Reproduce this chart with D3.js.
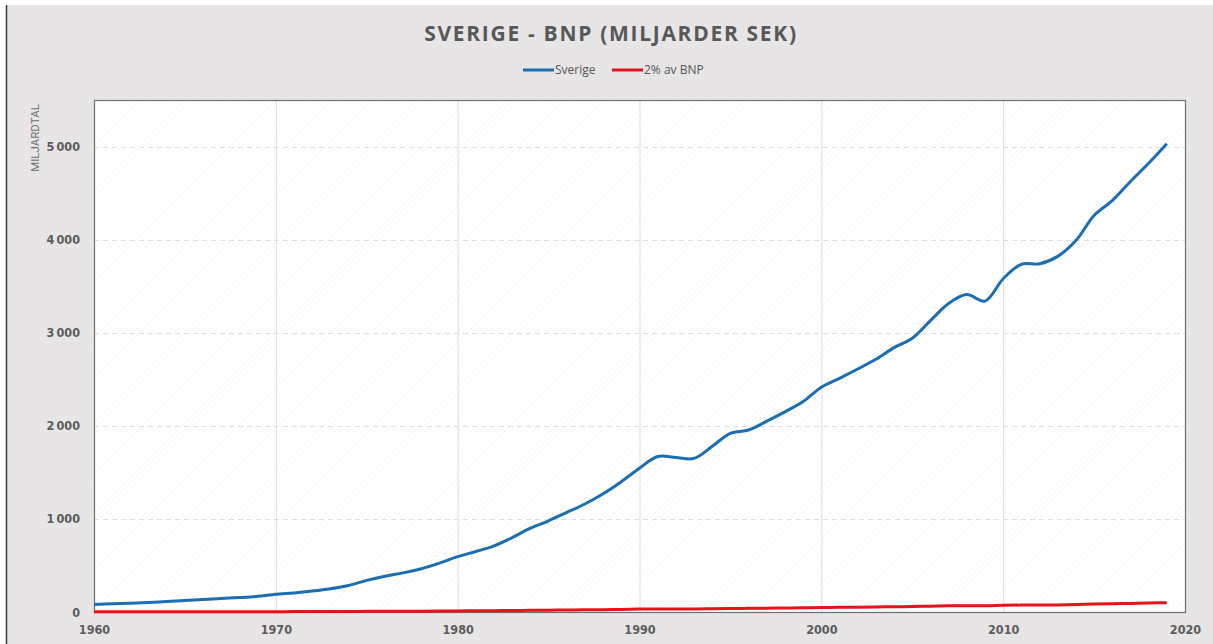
<!DOCTYPE html>
<html lang="sv">
<head>
<meta charset="UTF-8">
<title>Sverige - BNP</title>
<style>
  html, body {
    margin: 0;
    background: #ffffff;
    overflow: hidden;
  }
  .tick text {
    font-family: "DejaVu Sans Condensed", "DejaVu Sans", sans-serif;
    font-weight: bold;
    font-size: 12.5px;
    fill: #5c5c5c;
  }
</style>
</head>
<body>
<div id="chart"></div>
<script src="https://cdn.jsdelivr.net/npm/d3@7"></script>
<script>
// years 1960..2019
const years = d3.range(1960, 2020);

// BNP, miljarder SEK
const sverige = [
  80, 88, 95, 103, 113, 124, 134, 145, 155, 168,
  190, 205, 225, 250, 285, 340, 385, 420, 465, 525,
  595, 650, 710, 800, 900, 980, 1070, 1160, 1270, 1400,
  1545, 1670, 1660, 1650, 1780, 1920, 1955, 2050, 2150, 2260,
  2415, 2510, 2610, 2715, 2840, 2940, 3130, 3315, 3410, 3340,
  3580, 3735, 3740, 3820, 3990, 4260, 4420, 4625, 4820, 5030
];

// 2% av BNP
const tvaProcent = [
  1.6, 1.8, 1.9, 2.1, 2.3, 2.5, 2.7, 2.9, 3.1, 3.4,
  3.8, 4.1, 4.5, 5.0, 5.7, 6.8, 7.7, 8.4, 9.3, 10.5,
  11.9, 13.0, 14.2, 16.0, 18.0, 19.6, 21.4, 23.2, 25.4, 28.0,
  30.9, 33.4, 33.2, 33.0, 35.6, 38.4, 39.1, 41.0, 43.0, 45.2,
  48.3, 50.2, 52.2, 54.3, 56.8, 58.8, 62.6, 66.3, 68.2, 66.8,
  71.6, 74.7, 74.8, 76.4, 79.8, 85.2, 88.4, 92.5, 96.4, 100.6
];

const xTicks = [1960, 1970, 1980, 1990, 2000, 2010, 2020];
const yTicks = [0, 1000, 2000, 3000, 4000, 5000];

const seriesNames = ["Sverige", "2% av BNP"];
const seriesColors = ["#1b6db4", "#e8121b"];

const W = 1213, H = 644;
const margin = { top: 100, right: 28, bottom: 32, left: 94 };
const innerW = W - margin.left - margin.right;
const innerH = H - margin.top - margin.bottom;

const svg = d3.select("#chart").append("svg")
  .attr("width", W)
  .attr("height", H);

// page background and left frame line
svg.append("rect")
  .attr("x", 6).attr("y", 5)
  .attr("width", W - 6).attr("height", H - 5)
  .attr("fill", "#e7e5e6");
svg.append("line")
  .attr("x1", 6.5).attr("x2", 6.5)
  .attr("y1", 5).attr("y2", H)
  .attr("stroke", "#3a3a3a").attr("stroke-width", 1.5);

// hatch pattern for plot background
const defs = svg.append("defs");
const pat = defs.append("pattern")
  .attr("id", "hatch")
  .attr("width", 4).attr("height", 4)
  .attr("patternUnits", "userSpaceOnUse")
  .attr("patternTransform", "rotate(45)");
pat.append("rect").attr("width", 4).attr("height", 4).attr("fill", "#ffffff");
pat.append("line")
  .attr("x1", 0).attr("x2", 0).attr("y1", 0).attr("y2", 4)
  .attr("stroke", "#f3f3f3").attr("stroke-width", 1);

const x = d3.scaleLinear().domain([1960, 2020]).range([0, innerW]);
const y = d3.scaleLinear().domain([0, 5500]).range([innerH, 0]);

const g = svg.append("g")
  .attr("transform", `translate(${margin.left},${margin.top})`);

g.append("rect")
  .attr("width", innerW).attr("height", innerH)
  .attr("fill", "url(#hatch)");

// vertical grid (solid)
g.append("g")
  .selectAll("line")
  .data(xTicks.slice(1, -1))
  .join("line")
  .attr("x1", d => x(d) + 0.5).attr("x2", d => x(d) + 0.5)
  .attr("y1", 0).attr("y2", innerH)
  .attr("stroke", "#dcdcdc").attr("stroke-width", 1);

// horizontal grid (dashed)
g.append("g")
  .selectAll("line")
  .data(yTicks.slice(1))
  .join("line")
  .attr("x1", 0).attr("x2", innerW)
  .attr("y1", d => Math.round(y(d)) + 0.5).attr("y2", d => Math.round(y(d)) + 0.5)
  .attr("stroke", "#dedede").attr("stroke-width", 1)
  .attr("stroke-dasharray", "5,4");

// plot border
g.append("rect")
  .attr("x", 0.5).attr("y", 0.5)
  .attr("width", innerW).attr("height", innerH)
  .attr("fill", "none")
  .attr("stroke", "#6e6e6e").attr("stroke-width", 1.2);

// axes
const fmt = d => d3.format(",")(d).replace(/,/g, "\u2009");
const yAxis = g.append("g")
  .call(d3.axisLeft(y).tickValues(yTicks).tickSize(0).tickPadding(14).tickFormat(fmt));
yAxis.select(".domain").remove();

const xAxis = g.append("g")
  .attr("transform", `translate(0,${innerH})`)
  .call(d3.axisBottom(x).tickValues(xTicks).tickSize(0).tickPadding(13).tickFormat(d3.format("d")));
xAxis.select(".domain").remove();

// y axis title
svg.append("text")
  .attr("transform", "translate(39,138) rotate(-90)")
  .attr("text-anchor", "middle")
  .attr("font-family", "Roboto, 'DejaVu Sans', sans-serif")
  .attr("font-size", 11.5)
  .attr("fill", "#707070")
  .text("MILJARDTAL");

// lines
const line = d3.line()
  .x((d, i) => x(years[i]))
  .y(d => y(d))
  .curve(d3.curveCatmullRom.alpha(0.5));

[tvaProcent, sverige].forEach((vals, k) => {
  g.append("path")
    .datum(vals)
    .attr("fill", "none")
    .attr("stroke", k === 0 ? seriesColors[1] : seriesColors[0])
    .attr("stroke-width", 3)
    .attr("stroke-linejoin", "round")
    .attr("stroke-linecap", "butt")
    .attr("d", line);
});

// title
svg.append("text")
  .attr("x", 611).attr("y", 41)
  .attr("text-anchor", "middle")
  .attr("font-family", "'Open Sans', sans-serif")
  .attr("font-weight", "bold")
  .attr("font-size", 21)
  .attr("letter-spacing", 1.7)
  .attr("fill", "#585858")
  .text("SVERIGE - BNP (MILJARDER SEK)");

// legend
const legendX = [523, 612];
const legend = svg.append("g").attr("transform", "translate(0,70)");
seriesNames.forEach((name, i) => {
  legend.append("line")
    .attr("x1", legendX[i]).attr("x2", legendX[i] + 31)
    .attr("y1", 0).attr("y2", 0)
    .attr("stroke", seriesColors[i]).attr("stroke-width", 3);
  legend.append("text")
    .attr("x", legendX[i] + 32).attr("y", 4)
    .attr("font-family", "'Open Sans', sans-serif")
    .attr("font-size", 12)
    .attr("fill", "#555")
    .text(name);
});
</script>
</body>
</html>
